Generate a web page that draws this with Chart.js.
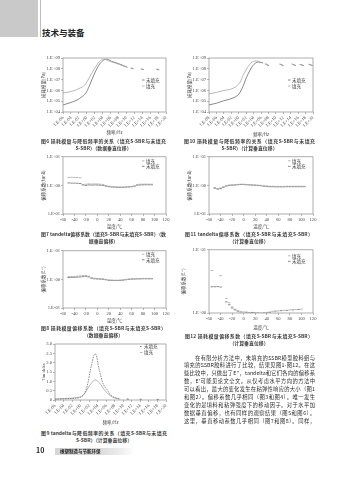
<!DOCTYPE html>
<html><head><meta charset="utf-8">
<script src="https://cdn.jsdelivr.net/npm/chart.js@4.4.1/dist/chart.umd.min.js"></script>
<style>
html,body{margin:0;padding:0;background:#fff;}
body{width:356px;height:480px;position:relative;overflow:hidden;font-family:"Noto Sans CJK SC",sans-serif;color:#333;}
canvas{position:absolute;}
.abs{position:absolute;white-space:nowrap;}
.cap{position:absolute;font-size:4.9px;line-height:7px;font-weight:700;color:#3c3c3c;}
.cap div{white-space:nowrap;}
.j{text-align:justify;text-align-last:justify;}
.c{text-align:center;}
.bt{position:absolute;left:184px;width:131px;font-size:5.3px;line-height:7px;white-space:nowrap;text-align:justify;text-align-last:justify;color:#2c2c2c;}
</style></head>
<body>
<div class="abs" style="left:0;top:0;width:38px;height:37px;background:#c9c9c9;"></div>
<div class="abs" style="left:40px;top:0;width:1px;height:37px;background:#bdbdbd;"></div>
<div class="abs" style="left:42px;top:27px;font-size:8.5px;line-height:10px;font-weight:700;color:#222;">技术与装备</div>

<canvas id="c6"></canvas><canvas id="c10"></canvas>
<canvas id="c7"></canvas><canvas id="c11"></canvas>
<canvas id="c8"></canvas><canvas id="c12"></canvas>
<canvas id="c9"></canvas>

<div class="cap" style="left:41px;top:136.5px;width:125px;"><div class="j">图6 损耗模量与降低频率的关系（填充S-SBR与未填充</div><div class="c">S-SBR）（数据垂直位移）</div></div>
<div class="cap" style="left:184px;top:136.5px;width:131px;"><div class="j">图10 损耗模量与降低频率的关系（填充S-SBR与未填充</div><div class="c">S-SBR）（计算垂直位移）</div></div>
<div class="cap" style="left:41px;top:229.5px;width:125px;"><div class="j">图7 tandelta偏移系数（填充S-SBR与未填充S-SBR）（数</div><div class="c">据垂直偏移）</div></div>
<div class="cap" style="left:185px;top:229.5px;width:128px;"><div class="j">图11 tandelta偏移系数（填充S-SBR与未填充S-SBR）</div><div class="c">（计算垂直位移）</div></div>
<div class="cap" style="left:41px;top:323.5px;width:125px;"><div class="j">图8 损耗模量偏移系数（填充S-SBR与未填充S-SBR）</div><div class="c">（数据垂直偏移）</div></div>
<div class="cap" style="left:185px;top:331.5px;width:128px;"><div class="j">图12 损耗模量偏移系数（填充S-SBR与未填充S-SBR）</div><div class="c">（计算垂直位移）</div></div>
<div class="cap" style="left:41px;top:428.5px;width:126px;"><div class="j">图9 tandelta与降低频率的关系（填充S-SBR与未填充</div><div class="c">S-SBR）（计算垂直位移）</div></div>

<div class="bt" style="top:354.5px;padding-left:11px;width:120px;">在有限分析方法中，未填充的SSBR模型胶料组与</div>
<div class="bt" style="top:362.4px;">填充的SSBR胶料进行了比较，结果见图1-图12。在这</div>
<div class="bt" style="top:370.3px;">些比较中，只做出了E''，tandelta和它们各向的偏移系</div>
<div class="bt" style="top:378.2px;">数，E'可能见论文全文。从仅考虑水平方向的方法中</div>
<div class="bt" style="top:386.1px;">可以看出，最大的变化发生在粘弹性响应的大小（图1</div>
<div class="bt" style="top:394px;">和图2）。偏移系数几乎相同（图3和图4）。唯一发生</div>
<div class="bt" style="top:401.9px;">变化的是填料和粘弹强度下的移动因子。对于水平加</div>
<div class="bt" style="top:409.8px;">数据垂直偏移，也有同样的观察结果（图5和图6）。</div>
<div class="bt" style="top:417.7px;">这里，垂直移动系数几乎相同（图7和图8）。同样，</div>

<div class="abs" style="left:36px;top:446px;font-size:7px;line-height:9px;font-weight:700;color:#222;">10</div>
<div class="abs" style="left:55px;top:447.5px;width:80px;height:7px;background:linear-gradient(90deg,#d6d6d6 0%,#dedede 60%,#ececec 80%,rgba(255,255,255,0) 100%);"></div>
<div class="abs" style="left:60px;top:447.5px;font-size:4.5px;line-height:7px;font-weight:700;color:#222;">橡塑制造与节能环保</div>

<script>
// ---------- data ----------
// Fig 6: loss modulus vs reduced frequency (data vertical shift); x = log10 frequency
const f6FilledExp   = [-6,-5,-3.5,-1.75,-0.5,0.75,2,3.25,4.25,5.75,7.5,9.25,10.25,null,11,11.6,null,13.6,14.2,null,17.5,18.1];
const f6FilledMod   = [5.8e5,6.6e5,8.9e5,1.6e6,3.2e6,1.8e7,1.1e8,5.0e8,7.9e8,5.0e8,3.2e8,1.8e8,1.4e8,null,1.15e8,1.0e8,null,9.5e7,8.5e7,null,9.0e7,8.0e7];
const f6UnfilledExp = [-6,-4.25,-2.5,-1.25,-0.25,0.75,2,3.25,4.25,5,6.25,8.25,10.25,null,11.2,11.8,null,13.8,14.4,null,17.7,18.3];
const f6UnfilledMod = [4.5e4,7.1e4,1.26e5,2.5e5,5.6e5,3.2e6,4.0e7,2.8e8,6.3e8,7.9e8,5.0e8,2.8e8,1.4e8,null,1.2e8,1.0e8,null,1.0e8,8.5e7,null,9.5e7,8.0e7];
// Fig 10: loss modulus vs reduced frequency (calculated vertical shift)
const f10FilledExp   = [-8,-6,-4,-2.5,-1.5,-0.5,0.4,1.2,2,2.7,3.3,4,4.7,5.4,6,null,7,7.9,null,10.9,11.8,null,14.2,15.1,null,16.3,17.2,null,18.7,19.6];
const f10FilledMod   = [4.7e5,6.5e5,1.0e6,1.2e6,1.6e6,2.6e6,6.0e6,2.5e7,8.0e7,2.0e8,3.5e8,5.0e8,5.3e8,4.5e8,3.5e8,null,3.0e8,2.0e8,null,2.8e8,2.0e8,null,2.8e8,2.1e8,null,2.6e8,2.1e8,null,2.7e8,2.1e8];
const f10UnfilledExp = [-8,-6,-4,-2.5,-1.5,-0.5,0.4,1.2,2,2.9,3.8,4.5,5.2,5.9,6.6,null,7.3,8.2,null,11.2,12.1,null,14.5,15.4,null,16.6,17.5,null,19,19.9];
const f10UnfilledMod = [4.5e4,6.5e4,1.1e5,1.5e5,2.0e5,3.0e5,7.0e5,2.5e6,1.4e7,6.0e7,2.0e8,3.3e8,4.3e8,4.0e8,3.4e8,null,2.9e8,1.9e8,null,2.7e8,1.9e8,null,2.7e8,2.0e8,null,2.5e8,2.0e8,null,2.6e8,2.0e8];
// Fig 7: tan delta shift factor (data vertical shift); x = temperature
const f7Temp     = [-50,-45,-40,-35,-30,-25,-20,-15,-10,-5,0,5,10,15,20,25,30,35,40,45,50,55,60,65,70,75,80,85,90,95];
const f7Filled   = [1.9,1.92,1.9,1.88,1.85,1.06,1.1,1.13,1.12,1.13,1.12,1.1,1.06,0.98,0.93,0.9,0.89,0.88,0.88,0.88,0.89,0.9,0.92,0.96,1.06,1.1,1.1,1.11,1.1,1.1];
const f7Unfilled = [1.22,1.2,1.2,1.19,1.16,1.04,1.0,1.04,1.03,1.04,1.03,1.02,1.0,0.94,0.9,0.88,0.87,0.86,0.86,0.86,0.87,0.88,0.9,0.94,1.02,1.04,1.05,1.05,1.05,1.05];
// Fig 11: tan delta shift factor (calculated vertical shift)
const f11Temp     = [-50,-45,-40,-35,-30,-25,-20,-15,-10,-5,0,5,10,15,20,25,30,35,40,45,50,55,60,65,70,75,80,85,90,95,100,105];
const f11Filled   = [0.85,0.78,0.82,0.9,0.98,1.03,1.05,1.06,1.08,1.1,1.1,1.08,1.07,1.05,1.04,1.02,1.0,0.97,0.95,0.93,0.93,0.92,0.92,0.92,0.92,0.93,0.93,0.93,0.93,0.93,0.93,0.93];
const f11Unfilled = [0.8,0.74,0.77,0.86,0.95,1.0,1.02,1.03,1.05,1.07,1.07,1.05,1.04,1.02,1.01,0.99,0.97,0.94,0.92,0.9,0.9,0.89,0.89,0.89,0.89,0.9,0.9,0.9,0.9,0.9,0.9,0.9];
// Fig 8: loss modulus shift factor (data vertical shift)
const f8Temp     = [-50,-45,-40,-35,-30,-25,-20,-15,-10,-5,0,5,10,15,20,25,30,35,40,45,50,55,60,65,70,75,80,85,90,95];
const f8Filled   = [1.25,1.25,1.27,1.3,1.32,1.35,1.38,1.3,1.15,1.1,1.08,1.06,1.05,1.0,0.96,0.95,0.94,0.94,0.95,0.97,1.0,1.03,1.05,1.06,1.07,1.07,1.08,1.08,1.08,1.08];
const f8Unfilled = [1.16,1.17,1.18,1.2,1.22,1.25,1.28,1.22,1.1,1.05,1.03,1.02,1.01,0.97,0.93,0.92,0.91,0.91,0.92,0.94,0.97,1.0,1.02,1.03,1.04,1.04,1.05,1.05,1.05,1.05];
// Fig 12: loss modulus shift factor (calculated vertical shift)
const f12TempFilled   = [-55,-40,-30,-25,-20,-15,-10,0,10,20,30,40,50,60,70,80,90,100];
const f12Filled       = [4.7,3.9,1.7,1.45,1.25,1.15,1.08,1.04,1.02,1.01,1.0,1.02,1.06,1.08,1.1,1.12,1.13,1.15];
const f12TempUnfilled = [-55,-50,-45,-40,-30,-25,-20,-15,-10,-5,5,15,25,35,45,55,65,75,85,95];
const f12Unfilled     = [2.6,2.6,2.62,2.58,1.5,1.35,1.2,1.12,1.07,1.04,1.03,1.02,1.0,1.0,1.03,1.07,1.09,1.1,1.12,1.14];
// Fig 9: tan delta vs reduced frequency
const f9FilledExp   = [-6,-5,-4,-3,-2,-1,0,0.6,1.2,1.7,2.2,2.7,3.1,3.5,3.9,4.5,5.1,5.7,6.3,6.9,7.5,8.1,8.7,9.3,null,10.8,11.3,null,13.8,14.3,null,17.8,18.3];
const f9Filled      = [0.06,0.07,0.08,0.09,0.1,0.12,0.18,0.27,0.42,0.64,0.8,0.95,1.05,1.07,1.02,0.9,0.7,0.5,0.35,0.24,0.15,0.1,0.07,0.05,null,0.05,0.03,null,0.04,0.03,null,0.03,0.02];
const f9UnfilledExp = [-6,-5,-4,-3,-2,-1,0,0.6,1.2,1.7,2.2,2.7,3.1,3.5,3.8,4.1,4.5,5.2,5.7,6.2,6.9,7.4,8.0,8.5,9.2,null,10.9,11.4,null,13.9,14.4,null,17.9,18.4];
const f9Unfilled    = [0.04,0.05,0.06,0.07,0.08,0.1,0.15,0.25,0.5,0.9,1.5,2.0,2.4,2.46,2.3,1.9,1.5,0.9,0.7,0.55,0.3,0.2,0.13,0.1,0.05,null,0.06,0.03,null,0.05,0.03,null,0.04,0.02];

const LBL_FILLED = '填充', LBL_UNFILLED = '未填充';

// ---------- helpers ----------
const CJK = '"Noto Sans CJK SC"';
const TICKF = {family: '"Liberation Serif"', size: 4.6};
const TITLEF = {family: CJK, size: 4.5};
const TICKC = '#4a4a4a';
const PAD = 4, PR = 8;
const C_DARK = '#6c6c6c', C_LIGHT = '#a4a4a4';

function pts(xs, ys){ return xs.map((x,i)=>({x: x===null ? xs[i-1] : x, y: ys[i]})); }
const fmtExp = v => '1.E' + (v < 0 ? '-' : '+') + String(Math.abs(v)).padStart(2,'0');
const fmtPow = v => fmtExp(Math.round(Math.log10(v)));
const keepPow10 = s => { s.ticks = s.ticks.filter(t => Math.abs(Math.log10(t.value) - Math.round(Math.log10(t.value))) < 1e-6); };

const framePlugin = {
  id: 'frame',
  afterDraw(chart, args, opts) {
    const {ctx, chartArea: a} = chart;
    ctx.save();
    ctx.strokeStyle = '#8a8a8a'; ctx.lineWidth = 0.7;
    ctx.strokeRect(a.left, a.top, a.right - a.left, a.bottom - a.top);
    const lg = opts.legend;
    if (lg) {
      ctx.font = '4.5px ' + CJK;
      ctx.textBaseline = 'middle';
      lg.order.forEach((di, k) => {
        const ds = chart.data.datasets[di];
        const x = a.right - lg.dx, y = a.top + lg.dy + k * lg.gap;
        ctx.strokeStyle = ds.borderColor; ctx.lineWidth = 0.8;
        ctx.setLineDash(ds.borderDash || []);
        ctx.beginPath(); ctx.moveTo(x, y); ctx.lineTo(x + 2.5, y); ctx.stroke();
        ctx.setLineDash([]);
        ctx.fillStyle = '#444';
        ctx.fillText(ds.label, x + 4, y);
      });
    }
    ctx.restore();
  }
};

function axisBase(extra) {
  return Object.assign({
    grid: {display: true, drawOnChartArea: false, drawTicks: true, tickLength: 2, color: '#8a8a8a', lineWidth: 0.6},
    border: {display: false},
  }, extra);
}
function expX(min, max, title) {
  return axisBase({type: 'linear', min, max,
    ticks: {stepSize: 2, minRotation: 45, maxRotation: 45, autoSkip: false, font: TICKF, color: TICKC, padding: 1, callback: fmtExp},
    title: {display: true, text: title, font: TITLEF, color: '#444', padding: 0}});
}
function tempX() {
  return axisBase({type: 'linear', min: -60, max: 120,
    ticks: {stepSize: 20, maxRotation: 0, autoSkip: false, font: TICKF, color: TICKC, padding: 1},
    title: {display: true, text: '温度/℃', font: TITLEF, color: '#444', padding: 0}});
}
function logY(min, max, title) {
  return axisBase({type: 'logarithmic', min, max, afterBuildTicks: keepPow10,
    ticks: {autoSkip: false, font: TICKF, color: TICKC, padding: 1, callback: fmtPow},
    title: {display: true, text: title, font: TITLEF, color: '#444', padding: 0}});
}
function lineDs(label, xs, ys, color, dash) {
  return {label, data: pts(xs, ys), showLine: true, borderColor: color, backgroundColor: color,
    borderWidth: 0.8, pointRadius: 0, spanGaps: false, cubicInterpolationMode: 'monotone', borderDash: dash || []};
}
function dotDs(label, xs, ys, color) {
  return {label, data: pts(xs, ys), showLine: false, borderColor: color, backgroundColor: color,
    pointStyle: 'line', pointRadius: 1.3, borderWidth: 0.8};
}
function build(id, g, x, y, datasets, legend) {
  const cv = document.getElementById(id);
  const W = PAD + g.yw + (g.R - g.L) + PR, H = PAD + (g.B - g.T) + g.xh + PAD;
  cv.width = W; cv.height = H;
  cv.style.left = (g.L - g.yw - PAD) + 'px'; cv.style.top = (g.T - PAD) + 'px';
  cv.style.width = W + 'px'; cv.style.height = H + 'px';
  x.afterFit = s => { s.height = g.xh; };
  y.afterFit = s => { s.width = g.yw; };
  return new Chart(cv, {
    type: 'scatter',
    data: {datasets},
    options: {
      responsive: false, animation: false, devicePixelRatio: 1, events: [],
      layout: {padding: {left: PAD, top: PAD, right: PR, bottom: PAD}},
      plugins: {legend: {display: false}, tooltip: {enabled: false}, frame: {legend}},
      scales: {x, y}
    },
    plugins: [framePlugin]
  });
}

// ---------- charts ----------
build('c6', {L:63, T:58, R:166, B:112, yw:22, xh:23},
  expX(-6, 20, '频率/Hz'), logY(1e4, 1e9, '损耗模量(Pa)'),
  [lineDs(LBL_FILLED, f6FilledExp, f6FilledMod, C_LIGHT), lineDs(LBL_UNFILLED, f6UnfilledExp, f6UnfilledMod, C_DARK)],
  {dx: 24, dy: 22, gap: 6, order: [1, 0]});

build('c10', {L:209, T:58, R:313, B:112, yw:22, xh:25},
  expX(-8, 20, '频率/Hz'), logY(1e4, 1e9, '损耗模量(Pa)'),
  [lineDs(LBL_FILLED, f10FilledExp, f10FilledMod, C_LIGHT), lineDs(LBL_UNFILLED, f10UnfilledExp, f10UnfilledMod, C_DARK)],
  {dx: 25, dy: 22, gap: 6, order: [1, 0]});

build('c7', {L:63, T:156, R:166, B:214, yw:22, xh:15},
  tempX(), logY(0.1, 10, '偏移系数(tanδ)'),
  [dotDs(LBL_FILLED, f7Temp, f7Filled, C_LIGHT), dotDs(LBL_UNFILLED, f7Temp, f7Unfilled, C_DARK)],
  {dx: 24, dy: 4, gap: 5.5, order: [0, 1]});

build('c11', {L:209, T:156, R:313, B:214, yw:22, xh:15},
  tempX(), logY(0.1, 10, '偏移系数(tanδ)'),
  [dotDs(LBL_FILLED, f11Temp, f11Filled, C_LIGHT), dotDs(LBL_UNFILLED, f11Temp, f11Unfilled, C_DARK)],
  {dx: 25, dy: 4, gap: 5.5, order: [0, 1]});

build('c8', {L:63, T:250, R:166, B:308, yw:22, xh:15},
  tempX(), logY(0.1, 10, "偏移系数(E'')"),
  [dotDs(LBL_FILLED, f8Temp, f8Filled, C_LIGHT), dotDs(LBL_UNFILLED, f8Temp, f8Unfilled, C_DARK)],
  {dx: 24, dy: 3.5, gap: 5.5, order: [0, 1]});

build('c12', {L:209, T:249, R:313, B:313, yw:28, xh:17},
  tempX(), logY(1, 10, "偏移系数(E'')"),
  [dotDs(LBL_FILLED, f12TempFilled, f12Filled, C_LIGHT), dotDs(LBL_UNFILLED, f12TempUnfilled, f12Unfilled, C_DARK)],
  {dx: 25, dy: 6, gap: 5.5, order: [0, 1]});

build('c9', {L:55, T:344, R:166, B:400, yw:14, xh:25},
  expX(-6, 20, '频率/Hz'),
  axisBase({type: 'linear', min: 0, max: 3,
    ticks: {stepSize: 0.5, autoSkip: false, font: TICKF, color: TICKC, padding: 1},
    title: {display: true, text: 'Tan delta', font: {family: '"Liberation Serif"', size: 4.6}, color: '#444', padding: 0}}),
  [lineDs(LBL_UNFILLED, f9UnfilledExp, f9Unfilled, C_DARK, [1.5, 1]), lineDs(LBL_FILLED, f9FilledExp, f9Filled, C_LIGHT)],
  {dx: 26, dy: 2.5, gap: 6, order: [0, 1]});
</script>
</body></html>
